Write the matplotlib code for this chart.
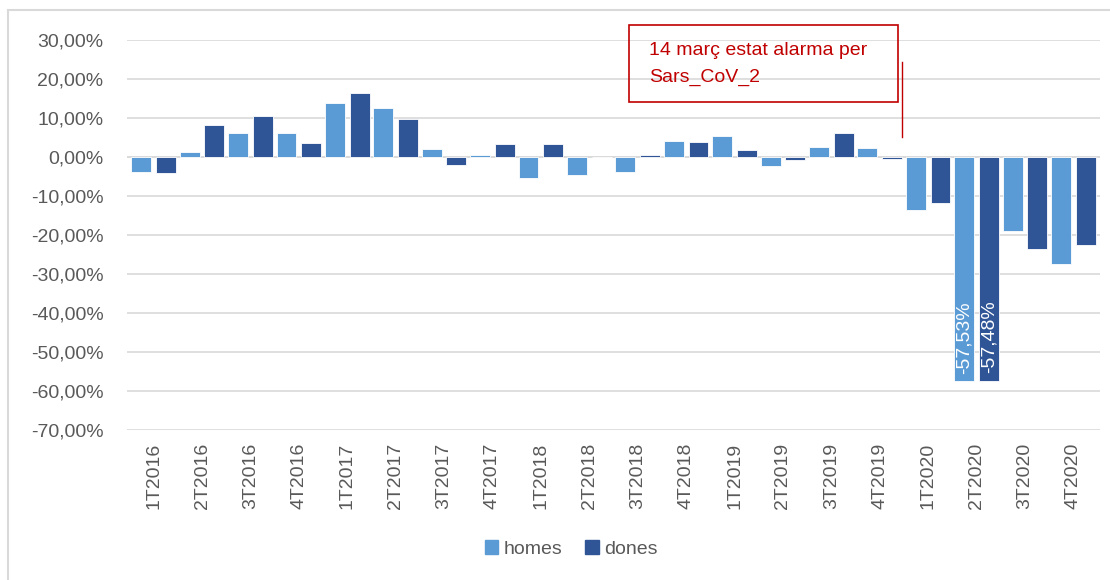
import matplotlib.pyplot as plt
import numpy as np
from matplotlib.patches import Rectangle, Patch

plt.rcParams['font.family'] = ['Liberation Sans', 'DejaVu Sans']

quarters = ['1T2016', '2T2016', '3T2016', '4T2016',
            '1T2017', '2T2017', '3T2017', '4T2017',
            '1T2018', '2T2018', '3T2018', '4T2018',
            '1T2019', '2T2019', '3T2019', '4T2019',
            '1T2020', '2T2020', '3T2020', '4T2020']

homes = [-3.8, 1.2, 6.2, 6.1,
         13.9, 12.5, 2.0, 0.4,
         -5.4, -4.7, -3.8, 4.2,
         5.3, -2.3, 2.6, 2.2,
         -13.6, -57.53, -19.1, -27.5]

dones = [-4.0, 8.3, 10.5, 3.6,
         16.3, 9.7, -2.1, 3.4,
         3.4, -0.1, 0.4, 3.8,
         1.7, -0.8, 6.2, -0.5,
         -11.9, -57.48, -23.5, -22.6]

c_homes = '#5B9BD5'
c_dones = '#2F5597'
grey_txt = '#595959'
grid_c = '#D9D9D9'
red = '#C00000'
fs = 14

fig = plt.figure(figsize=(11.1, 5.8), dpi=100)
ax = fig.add_axes([127 / 1110, 1 - 430 / 580, (1100 - 127) / 1110, 390 / 580])

x = np.arange(len(quarters))
w = 0.41
off = 0.255
ax.bar(x - off, homes, w, color=c_homes, edgecolor='white', linewidth=0.6, zorder=3)
ax.bar(x + off, dones, w, color=c_dones, edgecolor='white', linewidth=0.6, zorder=3)

# data labels on the 2T2020 bars
i = quarters.index('2T2020')
for xx, v in [(x[i] - off, homes[i]), (x[i] + off, dones[i])]:
    ax.text(xx, v + 2.0, f'{v:.2f}%'.replace('.', ','), rotation=90,
            ha='center', va='bottom', color='white', fontsize=fs, zorder=4)

ax.set_ylim(-70, 30)
ax.set_xlim(-0.55, 19.55)
yt = np.arange(-70, 31, 10)
ax.set_yticks(yt)
ax.set_yticklabels([f'{v:.2f}%'.replace('.', ',') for v in yt])
ax.set_xticks(x)
ax.set_xticklabels(quarters, rotation=90)
ax.tick_params(axis='both', length=0, colors=grey_txt, labelsize=fs)
ax.tick_params(axis='y', pad=17)
ax.tick_params(axis='x', pad=9)
ax.yaxis.grid(True, color=grid_c, linewidth=1.2, zorder=0)
ax.axhline(0, color=grid_c, linewidth=1.2, zorder=2)
for s in ax.spines.values():
    s.set_visible(False)

# marker line for the alarm state
ax.plot([15.45, 15.45], [5.1, 24.4], color=red, linewidth=1, zorder=4)

# annotation box
fig.patches.append(Rectangle((629 / 1110, 1 - 102 / 580), 269 / 1110, 77 / 580,
                             transform=fig.transFigure, fill=False,
                             edgecolor=red, linewidth=1.2))
fig.text(649 / 1110, 1 - 55 / 580, '14 març estat alarma per', color=red,
         fontsize=fs, va='baseline')
fig.text(649 / 1110, 1 - 82 / 580, 'Sars_CoV_2', color=red,
         fontsize=fs, va='baseline')

# chart border
fig.patches.append(Rectangle((8 / 1110, -0.05), 1.1, 1 - 10 / 580 + 0.05,
                             transform=fig.transFigure, fill=False,
                             edgecolor=grid_c, linewidth=1.5))

handles = [Patch(color=c_homes, label='homes'), Patch(color=c_dones, label='dones')]
fig.legend(handles=handles, loc='center', bbox_to_anchor=(571 / 1110, 1 - 549 / 580),
           ncol=2, frameon=False, fontsize=fs, handlelength=0.7, handleheight=0.7,
           handletextpad=0.25, columnspacing=1.2, labelcolor=grey_txt)

fig.savefig('out.png', dpi=100)
